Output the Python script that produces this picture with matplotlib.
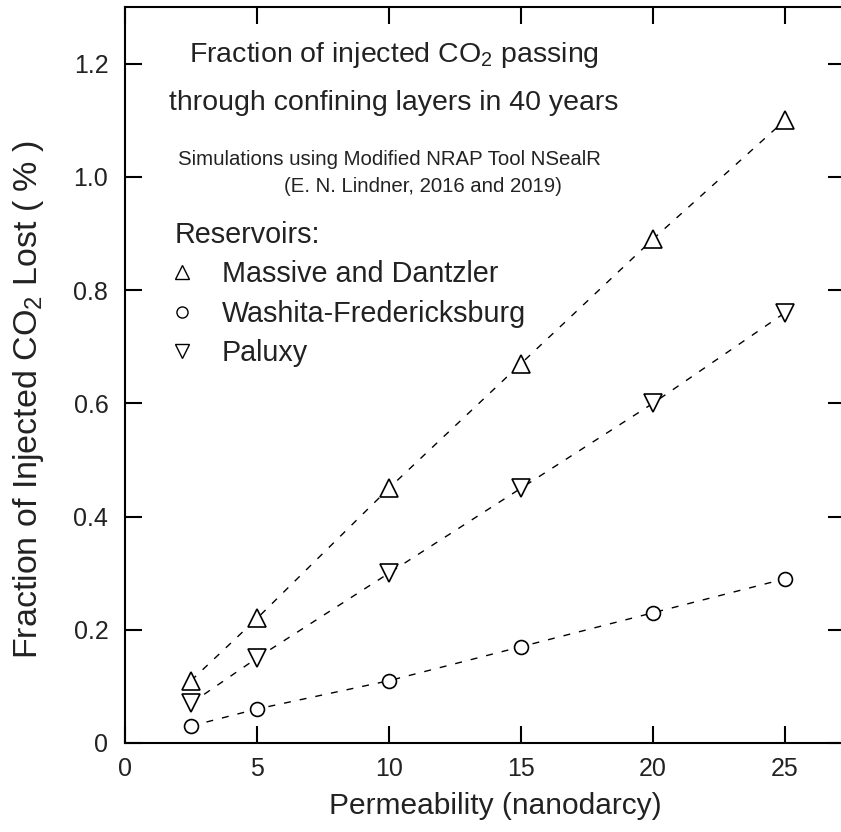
import matplotlib
matplotlib.use("Agg")
import matplotlib.pyplot as plt
from matplotlib.lines import Line2D

plt.rcParams['font.family'] = ['Liberation Sans', 'DejaVu Sans']
plt.rcParams['mathtext.fontset'] = 'custom'
plt.rcParams['mathtext.rm'] = 'Liberation Sans'
plt.rcParams['mathtext.it'] = 'Liberation Sans'

# permeability (nanodarcy)
perm = [2.5, 5, 10, 15, 20, 25]
# fraction lost (%)
massive = [0.11, 0.22, 0.45, 0.67, 0.89, 1.10]
washita = [0.03, 0.06, 0.11, 0.17, 0.23, 0.29]
paluxy = [0.07, 0.15, 0.30, 0.45, 0.60, 0.76]

names = ["Massive and Dantzler", "Washita-Fredericksburg", "Paluxy"]
markers = ["^", "o", "v"]
msizes = [13, 10, 13]

txt = "#222222"

fig = plt.figure(figsize=(8.41, 8.32), dpi=100)
ax = fig.add_axes([0.1486, 0.107, 0.8561, 0.8846])

for y, m, s in zip([massive, washita, paluxy], markers, msizes):
    ax.plot(perm, y, ls=(0, (5, 6.5)), color="k", lw=1.0)
    ax.plot(perm, y, ls="none", marker=m, ms=s, mfc="white", mec="k", mew=1.2)

ax.set_xlim(0, 27.27)
ax.set_ylim(0, 1.3)
ax.set_xticks([0, 5, 10, 15, 20, 25])
ax.set_yticks([0, 0.2, 0.4, 0.6, 0.8, 1.0, 1.2])
ax.set_yticklabels(["0", "0.2", "0.4", "0.6", "0.8", "1.0", "1.2"])
ax.tick_params(direction="in", length=12, width=1.5, top=True, right=True,
               labelsize=18, labelcolor=txt)
ax.tick_params(axis="y", pad=12)
ax.tick_params(axis="x", pad=10)
for sp in ax.spines.values():
    sp.set_linewidth(1.5)

ax.set_xlabel("Permeability (nanodarcy)", fontsize=21.5, color=txt)
ax.xaxis.set_label_coords(0.515, -0.067)
ax.set_ylabel("Fraction of Injected CO$_2$ Lost ( % )", fontsize=24.5, color=txt)
ax.yaxis.set_label_coords(-0.11, 0.466)

# annotation text
ax.text(0.373, 0.925, "Fraction of injected CO$_2$ passing", transform=ax.transAxes,
        ha="center", va="baseline", fontsize=20.5, color=txt)
ax.text(0.373, 0.860, "through confining layers in 40 years", transform=ax.transAxes,
        ha="center", va="baseline", fontsize=20.5, color=txt)
ax.text(0.367, 0.785, "Simulations using Modified NRAP Tool NSealR", transform=ax.transAxes,
        ha="center", va="baseline", fontsize=14.7, color=txt)
ax.text(0.414, 0.749, "(E. N. Lindner, 2016 and 2019)", transform=ax.transAxes,
        ha="center", va="baseline", fontsize=14.7, color=txt)

handles = [Line2D([], [], ls="none", marker=m, ms=s * 0.8, mfc="white", mec="k", mew=1.0)
           for m, s in zip(markers, msizes)]
leg = ax.legend(handles, names, title="Reservoirs:", loc="upper left",
                bbox_to_anchor=(0.069, 0.709), frameon=False, fontsize=20.7,
                title_fontsize=20.7, alignment="left", handlelength=0.5,
                handletextpad=1.15, labelspacing=0.39, borderpad=0,
                borderaxespad=0)
for t in leg.get_texts():
    t.set_color(txt)
leg.get_title().set_color(txt)

fig.savefig("out.png", dpi=100)
